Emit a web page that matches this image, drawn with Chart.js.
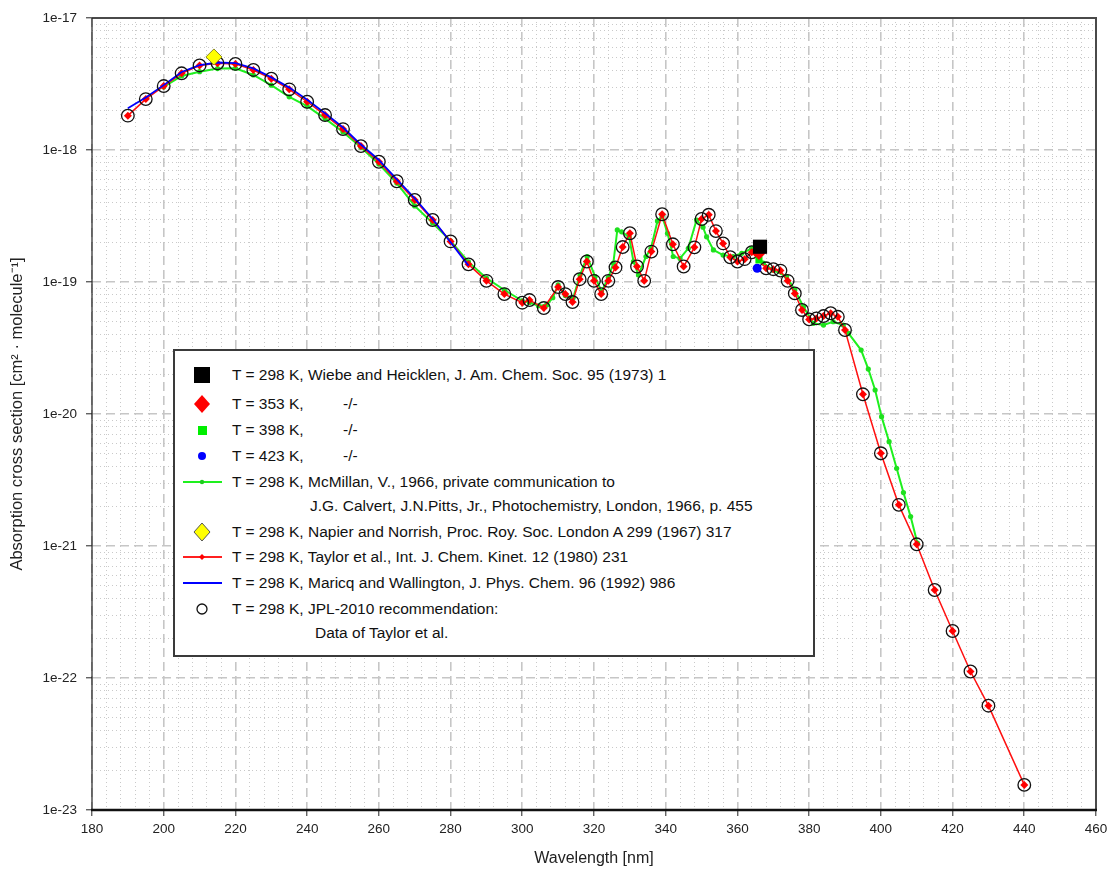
<!DOCTYPE html>
<html lang="en">
<head>
<meta charset="UTF-8">
<title>Absorption cross section</title>
<script src="https://cdn.jsdelivr.net/npm/chart.js"></script>
<style>
  html, body { margin: 0; padding: 0; background: #fff; }
  #wrap { position: relative; width: 1117px; height: 886px; }
  #chart { position: absolute; left: 0; top: 0; }
  #legend {
    position: absolute; left: 173px; top: 349px; width: 642px; height: 308px;
    box-sizing: border-box; border: 2px solid #3a3a3a; background: #fff;
    font-family: "Liberation Sans", Arial, sans-serif; font-size: 15.5px; color: #111;
  }
  #legend .row { position: absolute; height: 20px; line-height: 20px; white-space: nowrap; }
  #legend svg { position: absolute; left: 7px; width: 40px; height: 20px; }
</style>
</head>
<body>
<div id="wrap">
  <canvas id="chart" width="1117" height="886"></canvas>
  <div id="legend"></div>
</div>
<script>
// x ticks (nm) and y decades
const xLabels = [180, 200, 220, 240, 260, 280, 300, 320, 340, 360, 380, 400, 420, 440, 460];
const yDecades = [-23, -22, -21, -20, -19, -18, -17];

// Taylor et al. (1980), also JPL-2010 recommendation
const taylorWl = [190, 195, 200, 205, 210, 215, 220, 225, 230, 235, 240, 245, 250, 255, 260, 265, 270, 275, 280, 285, 290, 295, 300,
  302, 306, 310, 312, 314, 316, 318, 320, 322, 324, 326, 328, 330, 332, 334, 336, 339, 342, 345, 348, 350, 352, 354, 356, 358, 360, 362, 364,
  368, 370, 372, 374, 376, 378, 380, 382, 384, 386, 388, 390,
  395, 400, 405, 410, 415, 420, 425, 430, 440];
const taylorXs = [1.82e-18, 2.43e-18, 3.05e-18, 3.81e-18, 4.37e-18, 4.54e-18, 4.49e-18, 4.04e-18, 3.47e-18, 2.88e-18, 2.32e-18, 1.84e-18,
  1.44e-18, 1.07e-18, 8.15e-19, 5.8e-19, 4.18e-19, 2.95e-19, 2.03e-19, 1.36e-19, 1.02e-19, 8.1e-20, 6.97e-20,
  7.3e-20, 6.35e-20, 9.16e-20, 8.1e-20, 7.05e-20, 1.05e-19, 1.43e-19, 1.02e-19, 8.1e-20, 1.02e-19, 1.29e-19, 1.84e-19, 2.34e-19,
  1.31e-19, 1.02e-19, 1.7e-19, 3.26e-19, 1.93e-19, 1.31e-19, 1.83e-19, 3.0e-19, 3.23e-19, 2.43e-19, 1.96e-19, 1.54e-19, 1.43e-19,
  1.49e-19, 1.68e-19,
  1.27e-19, 1.25e-19, 1.22e-19, 1.02e-19, 8.2e-20, 6.14e-20, 5.21e-20, 5.3e-20, 5.52e-20, 5.8e-20, 5.45e-20, 4.33e-20,
  1.41e-20, 5.04e-21, 2.05e-21, 1.03e-21, 4.64e-22, 2.27e-22, 1.12e-22, 6.17e-23, 1.55e-23];

// McMillan (1966)
const mcmWl = [200, 205, 210, 215, 220, 225, 230, 235, 240, 245, 250, 255, 260, 265, 270, 275, 280, 285, 290, 295, 300,
  302, 304.5, 306.8, 308.5, 310, 312, 314.2, 316.1, 318.1, 320.3, 322.1, 324, 325.4, 326.5, 327.7, 329.8, 331, 332.4, 334.5, 335.9,
  337.7, 339, 340.5, 342.1, 344, 346.3, 348.6, 350.4, 351.4, 353.3, 356, 358.8, 361.2, 364, 367.2, 370, 373.7, 376, 378.4, 381.2,
  384, 386.7, 389.5,
  391, 394.5, 396.5, 398.4, 400.2, 402.3, 404.4, 406.3, 408.3, 410.2];
const mcmXs = [3.0e-18, 3.64e-18, 3.92e-18, 4.14e-18, 4.16e-18, 3.7e-18, 3.1e-18, 2.53e-18, 2.15e-18, 1.73e-18, 1.37e-18, 1.05e-18,
  7.84e-19, 5.62e-19, 3.77e-19, 2.8e-19, 2.05e-19, 1.42e-19, 1.07e-19, 8.7e-20, 7.2e-20,
  7.0e-20, 6.6e-20, 6.7e-20, 7.6e-20, 9.5e-20, 7.9e-20, 7.6e-20, 1.13e-19, 1.56e-19, 1.1e-19, 8.45e-20, 1.08e-19, 1.39e-19, 2.48e-19,
  2.4e-19, 2.2e-19, 1.43e-19, 1.13e-19, 1.56e-19, 1.8e-19, 2.9e-19, 3.16e-19, 2.34e-19, 1.56e-19, 1.51e-19, 1.8e-19, 2.95e-19,
  2.6e-19, 2.2e-19, 1.75e-19, 1.6e-19, 1.56e-19, 1.65e-19, 1.8e-19, 1.39e-19, 1.23e-19, 1.1e-19, 8.7e-20, 6.5e-20, 4.86e-20,
  4.72e-20, 5.0e-20, 4.72e-20,
  4.08e-20, 3.05e-20, 2.19e-20, 1.52e-20, 9.55e-21, 6.17e-21, 3.88e-21, 2.54e-21, 1.67e-21, 1.05e-21];

// Maricq and Wallington (1992)
const maricqWl = [190, 195, 200, 205, 210, 215, 220, 225, 230, 235, 240, 245, 250, 255, 260, 265, 270, 275, 280, 285];
const maricqXs = [2.07e-18, 2.5e-18, 3.1e-18, 3.9e-18, 4.4e-18, 4.6e-18, 4.55e-18, 4.15e-18, 3.55e-18, 2.97e-18, 2.4e-18, 1.9e-18,
  1.48e-18, 1.1e-18, 8.4e-19, 6.0e-19, 4.3e-19, 3.0e-19, 2.0e-19, 1.33e-19];

// single points
const wiebeWl = [366.3], wiebeXs = [1.85e-19];
const k353Wl = [366], k353Xs = [1.66e-19];
const k398Wl = [366], k398Xs = [1.47e-19];
const k423Wl = [365.5], k423Xs = [1.27e-19];
const napierWl = [214], napierXs = [5.07e-18];

const pts = (xs, ys) => xs.map((x, i) => ({ x: x, y: ys[i] }));

const FONT = "'Liberation Sans', Arial, sans-serif";
const isMajorX = v => v % 20 === 0;
const isMajorY = v => { const e = Math.log10(v); return Math.abs(e - Math.round(e)) < 1e-6; };

// tick positions: every 4 nm on x (labels every 20), 1..9 per decade on y
const xTickVals = [];
for (let v = xLabels[0]; v <= xLabels[xLabels.length - 1]; v += 4) xTickVals.push(v);
const yTickVals = [];
yDecades.forEach((e, i) => {
  for (let k = 1; k <= 9; k++) {
    if (i === yDecades.length - 1 && k > 1) break;
    yTickVals.push(parseFloat((k * Math.pow(10, e)).toPrecision(3)));
  }
});

const datasets = [
  { label: 'Wiebe', data: pts(wiebeWl, wiebeXs), showLine: false, pointStyle: 'rect', pointRadius: 10,
    backgroundColor: '#000', borderColor: '#000', borderWidth: 0, order: 0 },
  { label: '353 K', data: pts(k353Wl, k353Xs), showLine: false, pointStyle: 'rectRot', pointRadius: 7,
    backgroundColor: '#ff0000', borderColor: '#ff0000', borderWidth: 0, order: 0 },
  { label: '398 K', data: pts(k398Wl, k398Xs), showLine: false, pointStyle: 'rect', pointRadius: 5,
    backgroundColor: '#00ee00', borderColor: '#00ee00', borderWidth: 0, order: 0 },
  { label: '423 K', data: pts(k423Wl, k423Xs), showLine: false, pointStyle: 'circle', pointRadius: 4.5,
    backgroundColor: '#0000ff', borderColor: '#0000ff', borderWidth: 0, order: 0 },
  { label: 'McMillan', data: pts(mcmWl, mcmXs), showLine: true, borderColor: '#1ef01e', borderWidth: 2,
    pointStyle: 'circle', pointRadius: 2.6, backgroundColor: '#1ee01e', pointBorderWidth: 0, tension: 0, order: 4 },
  { label: 'Napier', data: pts(napierWl, napierXs), showLine: false, pointStyle: 'rectRot', pointRadius: 8,
    backgroundColor: '#ffff00', borderColor: '#8a8a20', borderWidth: 1, order: 0 },
  { label: 'Taylor', data: pts(taylorWl, taylorXs), showLine: true, borderColor: '#ff1010', borderWidth: 1.5,
    pointStyle: 'rectRot', pointRadius: 4, backgroundColor: '#ff0000', pointBorderWidth: 0, tension: 0, order: 3 },
  { label: 'Maricq', data: pts(maricqWl, maricqXs), showLine: true, borderColor: '#0000ff', borderWidth: 1.8,
    pointRadius: 0, tension: 0, order: 2 },
  { label: 'JPL-2010', data: pts(taylorWl, taylorXs), showLine: false, pointStyle: 'circle', pointRadius: 6.3,
    backgroundColor: 'rgba(0,0,0,0)', borderColor: '#111', borderWidth: 1.3, order: 1 }
];

const framePlugin = {
  id: 'frame',
  afterDraw(chart) {
    const { ctx, chartArea: a } = chart;
    ctx.save();
    ctx.strokeStyle = '#4a4a4a';
    ctx.lineWidth = 2;
    ctx.beginPath();
    ctx.moveTo(a.left, a.top); ctx.lineTo(a.right, a.top); ctx.lineTo(a.right, a.bottom);
    ctx.stroke();
    ctx.strokeStyle = '#222';
    ctx.lineWidth = 1.2;
    ctx.beginPath();
    ctx.moveTo(a.left, a.top); ctx.lineTo(a.left, a.bottom);
    ctx.stroke();
    ctx.strokeStyle = '#111';
    ctx.lineWidth = 2.6;
    ctx.beginPath();
    ctx.moveTo(a.left - 1, a.bottom); ctx.lineTo(a.right + 1, a.bottom);
    ctx.stroke();
    ctx.restore();
  }
};

new Chart(document.getElementById('chart'), {
  type: 'scatter',
  data: { datasets },
  options: {
    responsive: false,
    animation: false,
    devicePixelRatio: 1,
    layout: { padding: { left: 0, top: 18, right: 21, bottom: 0 } },
    plugins: { legend: { display: false }, tooltip: { enabled: false } },
    scales: {
      x: {
        type: 'linear', min: 180, max: 460,
        afterBuildTicks: s => { s.ticks = xTickVals.map(v => ({ value: v })); },
        afterFit: s => { s.height = 76; },
        ticks: {
          autoSkip: false, maxRotation: 0, padding: 5, color: '#222',
          font: { family: FONT, size: 13.5 },
          callback: v => (isMajorX(v) && xLabels.includes(v)) ? String(v) : ''
        },
        grid: {
          color: c => (c.tick && isMajorX(c.tick.value)) ? '#c6c6c6' : '#c9c9c9',
          lineWidth: c => (c.tick && isMajorX(c.tick.value)) ? 1.6 : 1,
          tickColor: c => (c.tick && isMajorX(c.tick.value)) ? '#222' : 'rgba(0,0,0,0)',
          tickLength: 6, tickWidth: 1
        },
        border: { display: false, dash: c => c.tick ? (isMajorX(c.tick.value) ? [9, 5] : [1, 3]) : [] },
        title: { display: true, text: 'Wavelength [nm]', color: '#222', font: { family: FONT, size: 16 }, padding: { top: 0, bottom: 18 } }
      },
      y: {
        type: 'logarithmic', min: 1e-23, max: 1e-17,
        afterBuildTicks: s => { s.ticks = yTickVals.map(v => ({ value: v })); },
        afterFit: s => { s.width = 92; },
        ticks: {
          autoSkip: false, padding: 9, color: '#222',
          font: { family: FONT, size: 13.5 },
          callback: v => isMajorY(v) ? '1e' + Math.round(Math.log10(v)) : ''
        },
        grid: {
          color: c => (c.tick && isMajorY(c.tick.value)) ? '#c6c6c6' : '#c9c9c9',
          lineWidth: c => (c.tick && isMajorY(c.tick.value)) ? 1.6 : 1,
          tickColor: c => (c.tick && isMajorY(c.tick.value)) ? '#222' : 'rgba(0,0,0,0)',
          tickLength: 6, tickWidth: 1
        },
        border: { display: false, dash: c => c.tick ? (isMajorY(c.tick.value) ? [9, 5] : [1, 3]) : [] },
        title: { display: true, text: 'Absorption cross section [cm² · molecule⁻¹]', color: '#222', font: { family: FONT, size: 16.5 }, padding: { top: 8, bottom: 0 } }
      }
    }
  },
  plugins: [framePlugin]
});

// legend, drawn as html over the plot
const icons = {
  wiebe: '<rect x="12" y="2" width="16" height="16" fill="#000"/>',
  k353: '<polygon points="20,1 28,10 20,19 12,10" fill="#ff0000"/>',
  k398: '<rect x="16" y="6" width="9" height="9" fill="#00ee00"/>',
  k423: '<circle cx="20" cy="10" r="4" fill="#0000ff"/>',
  mcm: '<line x1="1" y1="10" x2="40" y2="10" stroke="#1ef01e" stroke-width="2"/><circle cx="20" cy="10" r="2.2" fill="#1ecc1e"/>',
  napier: '<polygon points="20,1 28,10 20,19 12,10" fill="#ffff00" stroke="#555" stroke-width="1"/>',
  taylor: '<line x1="1" y1="10" x2="40" y2="10" stroke="#ff2020" stroke-width="2"/><polygon points="20,7 23,10 20,13 17,10" fill="#ff0000"/>',
  maricq: '<line x1="1" y1="10" x2="40" y2="10" stroke="#0000ff" stroke-width="2"/>',
  jpl: '<circle cx="20" cy="10" r="5" fill="none" stroke="#111" stroke-width="1.3"/>'
};
const legendRows = [
  { y: 375, icon: 'wiebe', text: 'T = 298 K, Wiebe and Heicklen, J. Am. Chem. Soc. 95 (1973) 1' },
  { y: 404, icon: 'k353', text: 'T = 353 K,', ditto: true },
  { y: 430, icon: 'k398', text: 'T = 398 K,', ditto: true },
  { y: 456, icon: 'k423', text: 'T = 423 K,', ditto: true },
  { y: 482, icon: 'mcm', text: 'T = 298 K, McMillan, V., 1966, private communication to' },
  { y: 506, indent: 135, text: 'J.G. Calvert, J.N.Pitts, Jr., Photochemistry, London, 1966, p. 455' },
  { y: 532, icon: 'napier', text: 'T = 298 K, Napier and Norrish, Proc. Roy. Soc. London A 299 (1967) 317' },
  { y: 557, icon: 'taylor', text: 'T = 298 K, Taylor et al., Int. J. Chem. Kinet. 12 (1980) 231' },
  { y: 583, icon: 'maricq', text: 'T = 298 K, Maricq and Wallington, J. Phys. Chem. 96 (1992) 986' },
  { y: 609, icon: 'jpl', text: 'T = 298 K, JPL-2010 recommendation:' },
  { y: 633, indent: 140, text: 'Data of Taylor et al.' }
];
const legend = document.getElementById('legend');
legendRows.forEach(r => {
  const top = r.y - 351 - 10;
  let html = '';
  if (r.icon) {
    html += '<svg viewBox="0 0 40 20" style="top:' + top + 'px">' + icons[r.icon] + '</svg>';
  }
  html += '<div class="row" style="top:' + top + 'px;left:' + (r.indent || 57) + 'px">' + r.text + '</div>';
  if (r.ditto) html += '<div class="row" style="top:' + top + 'px;left:168px">-/-</div>';
  legend.insertAdjacentHTML('beforeend', html);
});
</script>
</body>
</html>
